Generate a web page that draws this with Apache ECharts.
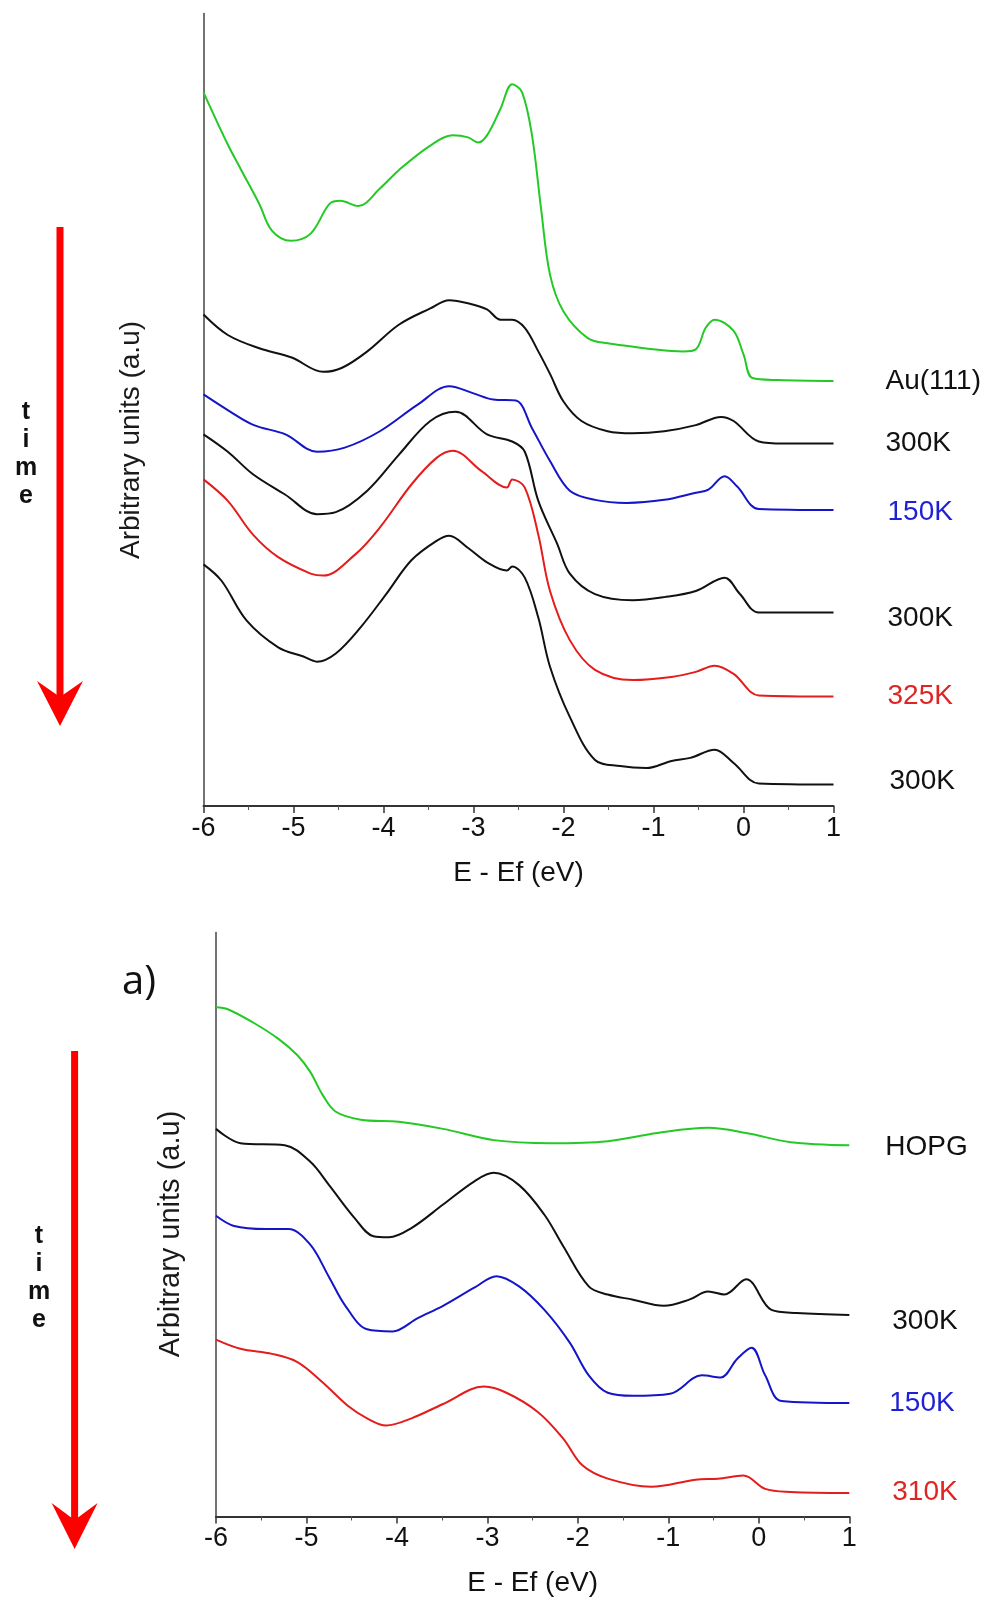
<!DOCTYPE html>
<html>
<head>
<meta charset="utf-8">
<script src="https://cdn.jsdelivr.net/npm/echarts@6.0.0/dist/echarts.min.js"></script>
<style>
html,body{margin:0;padding:0;background:#fff;}
#c{width:993px;height:1604px;}
</style>
</head>
<body>
<div id="c"></div>
<script>
// ---------- Axis ticks ----------
const xTicks = [-6, -5, -4, -3, -2, -1, 0, 1];

// ---------- Top panel (Au(111)) : energy (eV) and intensity (a.u.) ----------
const auE   = [-6, -5.73, -5.58, -5.38, -5.24, -5.03, -4.81, -4.60, -4.48, -4.28, -4.04, -3.83, -3.48, -3.23, -3.06, -2.95, -2.85, -2.70, -2.57, -2.46, -2.35, -2.25, -2.15, -2.0, -1.73, -1.51, -0.67, -0.53, -0.42, -0.32, -0.11, 0.0, 0.10, 0.39, 1.0];
const auV   = [697, 646, 621, 588, 562, 552, 559, 588, 591, 586, 603, 621, 645, 655, 653, 648, 655, 681, 705, 697, 655, 584, 519, 483, 457, 452, 444, 446, 467, 475, 464, 441, 418, 416, 415];

const t300aE = [-6, -5.73, -5.38, -5.02, -4.67, -4.46, -4.18, -3.83, -3.48, -3.27, -3.06, -2.85, -2.70, -2.57, -2.43, -2.28, -2.15, -2.0, -1.80, -1.51, -1.23, -0.88, -0.53, -0.25, -0.11, 0.17, 0.45, 1.0];
const t300aV = [480, 460, 447, 438, 424, 428, 444, 470, 486, 494, 491, 485, 475, 475, 467, 444, 422, 395, 376, 366, 364, 366, 372, 380, 376, 356, 354, 354];

const t150E = [-6, -5.7, -5.44, -5.09, -4.74, -4.43, -4.04, -3.62, -3.27, -3.0, -2.78, -2.53, -2.35, -2.15, -1.93, -1.65, -1.30, -0.88, -0.53, -0.39, -0.21, -0.07, 0.17, 1.0];
const t150V = [402, 385, 372, 363, 346, 350, 366, 392, 410, 403, 397, 396, 369, 337, 308, 299, 296, 299, 306, 309, 322, 312, 290, 289];

const t300bE = [-6, -5.73, -5.45, -5.09, -4.74, -4.53, -4.18, -3.83, -3.48, -3.20, -2.85, -2.57, -2.43, -2.28, -2.07, -1.93, -1.65, -1.23, -0.88, -0.53, -0.21, -0.04, 0.17, 1.0];
const t300bV = [363, 346, 324, 304, 285, 287, 308, 343, 376, 385, 363, 356, 346, 298, 256, 227, 207, 201, 204, 210, 223, 207, 189, 189];

const t325E = [-6, -5.73, -5.45, -5.17, -4.81, -4.67, -4.31, -4.04, -3.69, -3.41, -3.23, -2.91, -2.63, -2.57, -2.43, -2.28, -2.15, -1.93, -1.65, -1.23, -0.80, -0.53, -0.32, -0.11, 0.17, 1.0];
const t325V = [319, 298, 265, 243, 227, 225, 246, 272, 314, 340, 347, 327, 311, 319, 311, 265, 210, 162, 133, 123, 126, 131, 137, 129, 108, 107];

const t300cE = [-6, -5.80, -5.52, -5.17, -4.89, -4.74, -4.53, -4.25, -3.97, -3.69, -3.41, -3.27, -3.06, -2.85, -2.63, -2.57, -2.43, -2.28, -2.15, -1.93, -1.65, -1.37, -1.08, -0.80, -0.59, -0.32, -0.11, 0.17, 1.0];
const t300cV = [236, 220, 181, 155, 146, 141, 149, 175, 207, 240, 259, 264, 252, 238, 230, 234, 223, 184, 136, 87, 45, 39, 37, 44, 47, 55, 42, 22, 21];

// ---------- Bottom panel (HOPG) ----------
const hopgE = [-6, -5.87, -5.59, -5.31, -5.10, -4.96, -4.82, -4.68, -4.40, -3.98, -3.49, -2.93, -2.30, -1.67, -1.12, -0.56, -0.14, 0.35, 1.0];
const hopgV = [498, 496, 483, 467, 451, 435, 412, 396, 388, 386, 379, 368, 365, 367, 375, 380, 375, 366, 363];

const h300E = [-6, -5.73, -5.24, -4.96, -4.75, -4.47, -4.26, -4.09, -3.84, -3.49, -3.14, -2.93, -2.65, -2.37, -2.16, -1.88, -1.67, -1.39, -1.05, -0.77, -0.56, -0.38, -0.14, 0.14, 0.42, 1.0];
const h300V = [379, 365, 363, 347, 324, 292, 274, 273, 282, 305, 328, 336, 324, 295, 264, 225, 217, 212, 206, 212, 220, 217, 232, 202, 199, 197];

const h150E = [-6, -5.80, -5.45, -5.20, -4.96, -4.75, -4.57, -4.33, -4.05, -3.77, -3.49, -3.14, -2.90, -2.65, -2.37, -2.09, -1.88, -1.67, -1.39, -0.98, -0.63, -0.42, -0.24, -0.08, 0.07, 0.25, 1.0];
const h150V = [294, 284, 281, 281, 266, 234, 206, 183, 181, 194, 206, 224, 235, 225, 202, 170, 138, 121, 118, 120, 138, 136, 154, 165, 138, 113, 111];

const h310E = [-6, -5.73, -5.38, -5.10, -4.82, -4.54, -4.33, -4.12, -3.84, -3.49, -3.04, -2.79, -2.44, -2.16, -1.95, -1.67, -1.19, -0.70, -0.45, -0.17, 0.07, 0.35, 1.0];
const h310V = [173, 164, 159, 151, 131, 108, 96, 89, 96, 110, 127, 121, 102, 76, 50, 37, 29, 36, 37, 40, 27, 24, 23];

// ---------- Styling ----------
const FONT = '"Liberation Sans", Arial, sans-serif';
const GREEN = '#25c925', BLUE = '#1414c8', RED = '#e41c1c', BLACK = '#111111';

function pairs(E, V) { return E.map((e, i) => [e, V[i]]); }

function mkSeries(name, E, V, color, labelColor, idx, dist, dy) {
  return {
    type: 'line', name: name, xAxisIndex: idx, yAxisIndex: idx,
    data: pairs(E, V), showSymbol: false, smooth: 0.35,
    lineStyle: { color: color, width: 2 }, itemStyle: { color: color },
    endLabel: { show: true, formatter: name, distance: dist, offset: [0, dy],
      color: labelColor, fontSize: 28, fontFamily: FONT },
    silent: true
  };
}

function xAx(idx) {
  return {
    type: 'value', gridIndex: idx, min: -6, max: 1, interval: 1,
    name: 'E - Ef (eV)', nameLocation: 'middle', nameGap: 53,
    nameTextStyle: { fontSize: 28, color: BLACK, fontFamily: FONT },
    axisLine: { show: true, onZero: false, lineStyle: { color: '#333', width: 2 } },
    axisTick: { show: true, inside: false, length: 7, lineStyle: { color: '#333', width: 1.5 } },
    minorTick: { show: true, splitNumber: 2, length: 4, lineStyle: { color: '#555', width: 1 } },
    axisLabel: { fontSize: 27, color: BLACK, fontFamily: FONT, margin: 9,
      formatter: v => xTicks.includes(v) ? String(v) : '' },
    splitLine: { show: false }, minorSplitLine: { show: false }
  };
}
function yAx(idx, max) {
  return {
    type: 'value', gridIndex: idx, min: 0, max: max, position: 'left',
    axisLine: { show: true, onZero: false, lineStyle: { color: '#444', width: 1.5 } },
    axisTick: { show: false }, axisLabel: { show: false }, splitLine: { show: false }
  };
}

function vText(text, x, y, size) {
  return { type: 'text', x: x, y: y, rotation: Math.PI / 2,
    style: { text: text, fontSize: size, fontFamily: FONT, fill: '#1a1a1a', align: 'center', verticalAlign: 'middle' } };
}
function timeText(x, y) {
  return { type: 'text', x: x, y: y,
    style: { text: 't\ni\nm\ne', fontSize: 25, fontWeight: 'bold', fontFamily: FONT, fill: '#111',
      align: 'center', verticalAlign: 'middle', lineHeight: 28 } };
}
function arrow(x, y0, yNotch, yBack, yTip, half) {
  return [
    { type: 'rect', shape: { x: x - 3.5, y: y0, width: 7, height: yNotch - y0 + 2 }, style: { fill: '#ff0000' } },
    { type: 'polygon', shape: { points: [[x - half, yBack], [x, yNotch], [x + half, yBack], [x, yTip]] }, style: { fill: '#ff0000' } }
  ];
}

const chart = echarts.init(document.getElementById('c'), null, { renderer: 'canvas' });
chart.setOption({
  animation: false,
  backgroundColor: '#ffffff',
  grid: [
    { left: 203.5, top: 13.5, width: 630, height: 792.5, outerBoundsMode: 'none', containLabel: false },
    { left: 216, top: 932.5, width: 633.3, height: 584, outerBoundsMode: 'none', containLabel: false }
  ],
  xAxis: [xAx(0), xAx(1)],
  yAxis: [yAx(0, 774), yAx(1, 571)],
  series: [
    mkSeries('Au(111)', auE, auV, GREEN, BLACK, 0, 52, 0),
    mkSeries('300K', t300aE, t300aV, BLACK, BLACK, 0, 52, 0),
    mkSeries('150K', t150E, t150V, BLUE, '#1f1fd6', 0, 54, 2),
    mkSeries('300K', t300bE, t300bV, BLACK, BLACK, 0, 54, 6),
    mkSeries('325K', t325E, t325V, RED, '#e02424', 0, 54, 0),
    mkSeries('300K', t300cE, t300cV, BLACK, BLACK, 0, 56, -3),
    mkSeries('HOPG', hopgE, hopgV, GREEN, BLACK, 1, 36, 2),
    mkSeries('300K', h300E, h300V, BLACK, BLACK, 1, 43, 6),
    mkSeries('150K', h150E, h150V, BLUE, '#1f1fd6', 1, 40, 0),
    mkSeries('310K', h310E, h310V, RED, '#e02424', 1, 43, -1)
  ],
  graphic: [
    vText('Arbitrary units (a.u)', 131, 440, 28),
    vText('Arbitrary units (a.u)', 171, 1234, 29),
    timeText(26, 454),
    timeText(39, 1278),
    { type: 'text', x: 139, y: 983, style: { text: 'a)', fontSize: 40, fontFamily: '"Open Sans", "Noto Sans", sans-serif', fill: '#111', align: 'center', verticalAlign: 'middle' } },
    ...arrow(60, 227, 697, 681, 726, 23),
    ...arrow(74.6, 1051, 1520, 1503, 1549, 23)
  ]
});
</script>
</body>
</html>
